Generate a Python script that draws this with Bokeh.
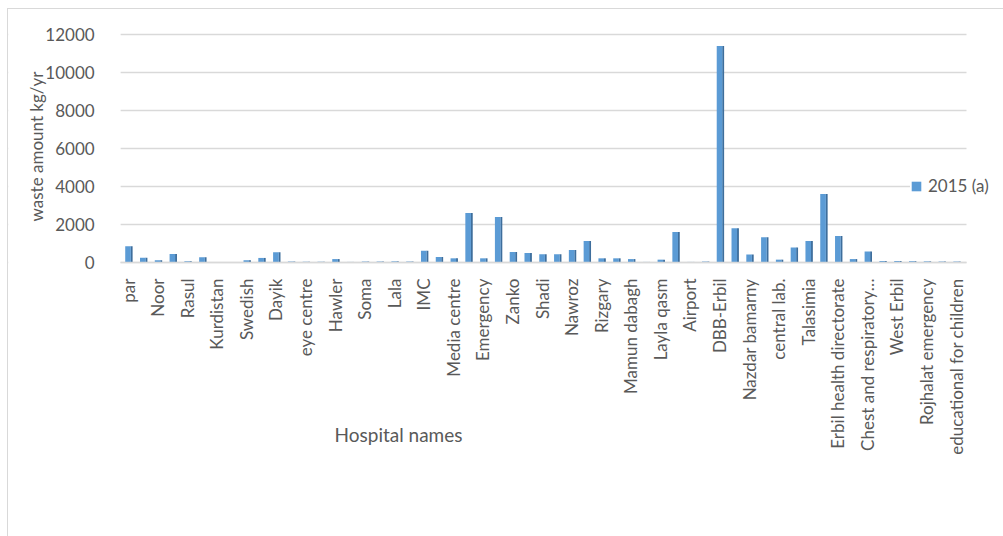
from bokeh.plotting import figure
from bokeh.models import Range1d, FixedTicker, Legend, LegendItem, Label, BoxAnnotation
from bokeh.transform import dodge
from bokeh.embed import file_html
from bokeh.resources import INLINE

# ---- data ----
bar_index = list(range(1, 58))
waste_2015 = [850, 250, 120, 450, 70, 270, 30, 30, 120, 240,
              540, 50, 40, 40, 180, 30, 50, 50, 60, 50,
              620, 290, 220, 2600, 220, 2400, 550, 500, 440, 430,
              660, 1130, 220, 220, 180, 30, 150, 1600, 30, 50,
              11400, 1800, 420, 1330, 150, 790, 1130, 3600, 1400, 180,
              580, 80, 80, 70, 60, 50, 50]
tick_positions = list(range(1, 58, 2))
tick_labels = ["par", "Noor", "Rasul", "Kurdistan", "Swedish", "Dayik", "eye centre",
               "Hawler", "Soma", "Lala", "IMC", "Media centre", "Emergency", "Zanko",
               "Shadi", "Nawroz", "Rizgary", "Mamun dabagh", "Layla qasm", "Airport",
               "DBB-Erbil", "Nazdar bamarny", "central lab.", "Talasimia",
               "Erbil health directorate", "Chest and respiratory\u2026", "West Erbil",
               "Rojhalat emergency", "educational for children"]
y_ticks = [0, 2000, 4000, 6000, 8000, 10000, 12000]
series_name = "2015 (a)"
x_title = "Hospital names"
y_title = "waste amount kg/yr"

FONT = "Lato"
TXT = "#595959"
GRID = "#D9D9D9"

# the frame fills the whole chart box; both axes sit at fixed data locations
p = figure(width=996, height=528, output_backend="svg", toolbar_location=None,
           x_range=Range1d(-7.083, 60.27), y_range=Range1d(-14474, 13316),
           min_border_left=0, min_border_right=0, min_border_top=0,
           min_border_bottom=0, margin=(8, 0, 0, 7))
p.styles = {"border-top": "1px solid " + GRID, "border-left": "1px solid " + GRID}

src = dict(x=bar_index, top=waste_2015)
side = p.vbar(x=dodge("x", 0.245, range=p.x_range), top="top", width=0.13, bottom=0,
              source=src, fill_color="#3E6E9C", line_color=None)
front = p.vbar(x="x", top="top", width=0.38, bottom=0, source=src,
               fill_color="#5B9BD5", line_color=None)

# keep grid lines inside the plot area
p.add_layout(BoxAnnotation(left=57.7, bottom=-100, fill_color="white", fill_alpha=1.0,
                           line_color=None, level="underlay"))
p.add_layout(BoxAnnotation(right=0.5, bottom=-100, fill_color="white", fill_alpha=1.0,
                           line_color=None, level="underlay"))

# x axis at y = 0
p.xaxis.fixed_location = 0
p.xaxis.ticker = FixedTicker(ticks=tick_positions)
p.xaxis.major_label_overrides = {pos: lab for pos, lab in zip(tick_positions, tick_labels)}
p.xaxis.major_label_orientation = 3.14159265 / 2
p.xaxis.major_label_text_font = FONT
p.xaxis.major_label_text_font_size = "17px"
p.xaxis.major_label_text_color = TXT
p.xaxis.major_label_standoff = 10
p.xaxis.major_tick_line_color = None
p.xaxis.minor_tick_line_color = None
p.xaxis.axis_line_color = GRID
p.xaxis.axis_line_width = 1.5
p.xaxis.bounds = (0.5, 57.7)

# y axis at the left edge of the bars
p.yaxis.fixed_location = 0.5
p.yaxis.ticker = FixedTicker(ticks=y_ticks)
p.yaxis.bounds = (0, 12000)
p.yaxis.major_label_text_font = FONT
p.yaxis.major_label_text_font_size = "17px"
p.yaxis.major_label_text_color = TXT
p.yaxis.major_label_standoff = 20
p.yaxis.major_tick_line_color = None
p.yaxis.minor_tick_line_color = None
p.yaxis.axis_line_color = None

p.xgrid.grid_line_color = None
p.ygrid.grid_line_color = GRID
p.ygrid.grid_line_width = 1.5
p.outline_line_color = None

# axis titles
p.add_layout(Label(x=390, y=103, x_units="screen", y_units="screen",
                   text=x_title, text_font=FONT, text_font_size="19px",
                   text_color=TXT, text_align="center", text_baseline="middle"))
p.add_layout(Label(x=28, y=391, x_units="screen", y_units="screen", angle=1.5708,
                   text=y_title, text_font=FONT, text_font_size="17px",
                   text_color=TXT, text_align="center", text_baseline="middle"))

legend = Legend(items=[LegendItem(label=series_name, renderers=[front])],
                location=(902, 341), padding=2, margin=0, glyph_width=12, glyph_height=12,
                label_standoff=6, label_text_font=FONT, label_text_font_size="17px",
                label_text_color=TXT, border_line_color=None, background_fill_alpha=1.0)
p.add_layout(legend, "center")

open("out.html", "w").write(file_html(p, INLINE))
